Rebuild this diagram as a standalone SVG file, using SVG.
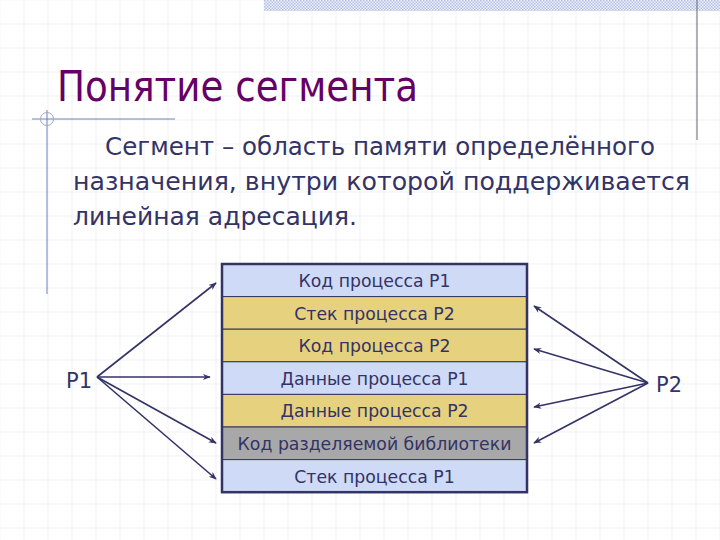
<svg xmlns="http://www.w3.org/2000/svg" width="720" height="540" viewBox="0 0 720 540">
<defs>
<pattern id="grid" width="24" height="24" patternUnits="userSpaceOnUse">
<path d="M24 0V24M0 24H24" fill="none" stroke="#e2e2e8" stroke-width="1"/>
</pattern>
<pattern id="hatch" width="3" height="3" patternUnits="userSpaceOnUse">
<rect width="3" height="3" fill="#eef0fa"/>
<rect width="1.5" height="1.5" fill="#b4c0e4"/>
<rect x="1.5" y="1.5" width="1.5" height="1.5" fill="#b4c0e4"/>
</pattern>
<marker id="ah" viewBox="0 0 10 10" refX="9" refY="5" markerWidth="8" markerHeight="8" markerUnits="userSpaceOnUse" orient="auto">
<path d="M0 1L10 5L0 9L3 5Z" fill="#333366"/>
</marker>
<style>
.t{font-family:"DejaVu Sans","Liberation Sans",sans-serif;fill:#333366}
.cell{stroke:#333366;stroke-width:1}
.blue{fill:#cfdaf6}
.yel{fill:#e6d17e}
.gray{fill:#a8a8a8}
.row{font-family:"DejaVu Sans","Liberation Sans",sans-serif;font-size:17.3px;fill:#333366;text-anchor:middle}
.conn line{stroke:#333366;stroke-width:1.6;marker-end:url(#ah)}
</style>
</defs>
<rect width="720" height="540" fill="#ffffff"/>
<rect width="720" height="540" fill="url(#grid)" transform="translate(0.5,0.5)"/>
<rect x="264" y="0" width="456" height="11" fill="url(#hatch)"/>
<line x1="697" y1="0" x2="697" y2="140" stroke="#666677" stroke-width="1"/>
<line x1="32" y1="119" x2="175" y2="119" stroke="#7080b8" stroke-width="1"/>
<line x1="47" y1="110" x2="47" y2="294" stroke="#7080b8" stroke-width="1"/>
<circle cx="47" cy="119" r="6.5" fill="none" stroke="#a0a8c8" stroke-width="1"/>
<text x="57" y="101" font-family="DejaVu Sans, Liberation Sans, sans-serif" font-size="43" fill="#660066" textLength="361" lengthAdjust="spacingAndGlyphs">Понятие сегмента</text>
<g class="t" font-size="25">
<text x="105" y="155" textLength="550" lengthAdjust="spacingAndGlyphs">Сегмент – область памяти определённого</text>
<text x="73" y="190" textLength="617" lengthAdjust="spacingAndGlyphs">назначения, внутри которой поддерживается</text>
<text x="73" y="225">линейная адресация.</text>
</g>
<g id="memory">
<g id="row1"><rect class="cell blue" x="222" y="264" width="305" height="32.6"/><text class="row" x="374.5" y="287">Код процесса P1</text></g>
<g id="row2"><rect class="cell yel" x="222" y="296.6" width="305" height="32.6"/><text class="row" x="374.5" y="319.6">Стек процесса P2</text></g>
<g id="row3"><rect class="cell yel" x="222" y="329.2" width="305" height="32.6"/><text class="row" x="374.5" y="352.2">Код процесса P2</text></g>
<g id="row4"><rect class="cell blue" x="222" y="361.8" width="305" height="32.6"/><text class="row" x="374.5" y="384.8">Данные процесса P1</text></g>
<g id="row5"><rect class="cell yel" x="222" y="394.4" width="305" height="32.6"/><text class="row" x="374.5" y="417.4">Данные процесса P2</text></g>
<g id="row6"><rect class="cell gray" x="222" y="427" width="305" height="32.6"/><text class="row" x="374.5" y="450">Код разделяемой библиотеки</text></g>
<g id="row7"><rect class="cell blue" x="222" y="459.6" width="305" height="32.6"/><text class="row" x="374.5" y="482.6">Стек процесса P1</text></g>
<rect x="222" y="264" width="305" height="228.2" fill="none" stroke="#333366" stroke-width="2.5"/>
</g>
<g id="p1"><text class="t" x="66" y="388" font-size="21">P1</text></g>
<g id="p2"><text class="t" x="656" y="392" font-size="21">P2</text></g>
<g class="conn" id="connectors">
<line x1="97" y1="377" x2="216" y2="283"/>
<line x1="97" y1="377" x2="210" y2="377"/>
<line x1="97" y1="377" x2="216" y2="443"/>
<line x1="97" y1="377" x2="216" y2="479"/>
<line x1="648" y1="383" x2="534" y2="306"/>
<line x1="648" y1="383" x2="534" y2="349"/>
<line x1="648" y1="383" x2="534" y2="407"/>
<line x1="648" y1="383" x2="534" y2="443"/>
</g>
</svg>
